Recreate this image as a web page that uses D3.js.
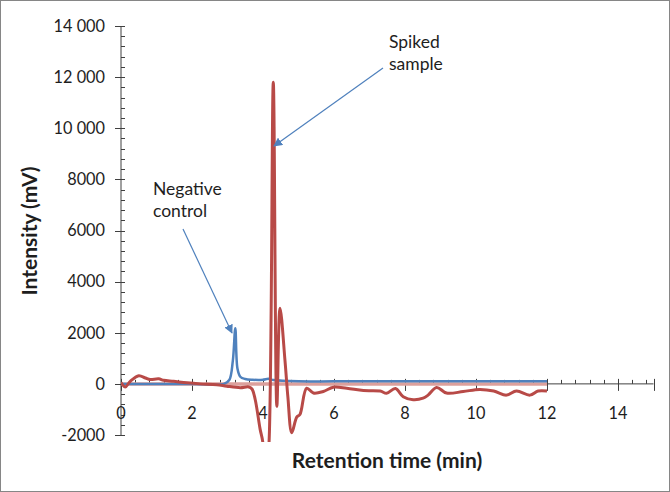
<!DOCTYPE html>
<html><head><meta charset="utf-8">
<script src="https://cdn.jsdelivr.net/npm/d3@7"></script>
<style>body{margin:0;background:#fff}svg{display:block}text{font-family:Lato,"Open Sans",sans-serif;fill:#1e1e1e}</style>
</head><body><svg id="c" width="670" height="492"></svg>
<script>
const xTicks = [0, 2, 4, 6, 8, 10, 12, 14];
const yTicks = [-2000, 0, 2000, 4000, 6000, 8000, 10000, 12000, 14000];
const yTickLabels = ["-2000", "0", "2000", "4000", "6000", "8000", "10 000", "12 000", "14 000"];

const blankTime = [0, 12];
const blankValue = [0, 0];

const negTime = [0, 1, 2, 2.9, 3.05, 3.15, 3.22, 3.28, 3.36, 3.5, 3.7, 4.0, 4.15, 4.3, 5, 6, 8, 10, 12];
const negValue = [0, 0, 0, 0, 150, 900, 2180, 600, 280, 190, 160, 160, 200, 150, 100, 100, 100, 100, 100];

const spikeTime = [0, 0.12, 0.26, 0.5, 0.69, 0.82, 1.06, 1.2, 1.48, 1.86, 2.23, 2.7, 2.98, 3.36, 3.6, 3.69, 3.78, 3.92, 3.99, 4.08, 4.17, 4.29, 4.39, 4.48, 4.62, 4.7, 4.81, 4.95, 5.04, 5.23, 5.42, 5.7, 5.98, 6.36, 6.83, 7.3, 7.48, 7.73, 7.95, 8.23, 8.51, 8.65, 8.89, 9.17, 9.64, 10.1, 10.5, 10.86, 11.14, 11.52, 11.75, 12];
const spikeValue = [50, -120, 100, 320, 230, 170, 200, 140, 100, 40, 0, -30, -90, -150, -120, -200, -610, -1780, -2240, -3800, -2300, 11800, -880, 2960, 900, -500, -1910, -1300, -1200, -170, -360, -300, -130, -170, -260, -280, -370, -180, -500, -620, -560, -440, -140, -360, -300, -220, -280, -440, -280, -440, -280, -280];

const svg = d3.select("#c");
svg.append("rect").attr("x",0.5).attr("y",0.5).attr("width",669).attr("height",491)
  .attr("fill","#fff").attr("stroke","#868686");

const x = d3.scaleLinear().domain([0, 15]).range([121, 653.5]);
const y = d3.scaleLinear().domain([-2000, 14000]).range([435, 26]);
const axisCol = "#404040";

// y axis
const ya = svg.append("g");
ya.append("line").attr("x1",x(0)).attr("x2",x(0)).attr("y1",y(-2000)).attr("y2",y(14000)).attr("stroke",axisCol);
d3.range(-2000, 14001, 400).forEach(v => {
  const major = v % 2000 === 0;
  ya.append("line").attr("x1", x(0) + (major ? -6 : 0)).attr("x2", x(0) + 4)
    .attr("y1", Math.round(y(v)) + 0.5).attr("y2", Math.round(y(v)) + 0.5).attr("stroke", axisCol);
});
yTicks.forEach((v, i) => {
  ya.append("text").attr("x", 105).attr("y", y(v)).attr("dy", "0.36em").attr("text-anchor","end")
    .attr("font-size", 16.3).text(yTickLabels[i]);
});

// x axis at y=0
const xa = svg.append("g");
xa.append("line").attr("x1",x(0)).attr("x2",x(15)).attr("y1",y(0)).attr("y2",y(0)).attr("stroke",axisCol);
d3.range(0, 75, 2).map(d => d / 5).forEach(t => {
  const major = Math.abs(t % 2) < 1e-9;
  const px = Math.round(x(t)) + 0.5;
  xa.append("line").attr("x1", px).attr("x2", px)
    .attr("y1", y(0) - (major ? 5 : 4)).attr("y2", y(0) + (major ? 7 : 0)).attr("stroke", axisCol);
});
xa.append("line").attr("x1", Math.round(x(15))+0.5).attr("x2", Math.round(x(15))+0.5)
  .attr("y1", y(0) - 5).attr("y2", y(0) + 7).attr("stroke", axisCol);
xTicks.forEach(t => {
  xa.append("text").attr("x", x(t)).attr("y", 419).attr("text-anchor","middle")
    .attr("font-size", 16.3).text(t);
});

// series
svg.append("clipPath").attr("id","pc").append("rect").attr("x",x(0)).attr("y",20).attr("width",540).attr("height",422);
const g = svg.append("g").attr("clip-path","url(#pc)");
const line = d3.line().x(d => x(d[0])).y(d => y(d[1])).curve(d3.curveCatmullRom.alpha(0.5));
g.append("path").attr("d", line(blankTime.map((t,i)=>[t, blankValue[i]])))
  .attr("fill","none").attr("stroke","#dca09c").attr("stroke-width",3.5);
g.append("path").attr("d", line(negTime.map((t,i)=>[t, negValue[i]])))
  .attr("fill","none").attr("stroke","#4f81bd").attr("stroke-width",2.5);
g.append("path").attr("d", line(spikeTime.map((t,i)=>[t, spikeValue[i]])))
  .attr("fill","none").attr("stroke","#b84a47").attr("stroke-width",3).attr("stroke-linejoin","round");

// annotations
const defs = svg.append("defs");
defs.append("marker").attr("id","ah").attr("viewBox","0 0 10 10").attr("refX",9).attr("refY",5)
  .attr("markerWidth",7.5).attr("markerHeight",7.5).attr("orient","auto")
  .append("path").attr("d","M0,0L10,5L0,10z").attr("fill","#4f81bd");
svg.append("line").attr("x1",383).attr("y1",68).attr("x2",274).attr("y2",146)
  .attr("stroke","#4f81bd").attr("stroke-width",1.2).attr("marker-end","url(#ah)");
svg.append("line").attr("x1",183).attr("y1",229).attr("x2",232).attr("y2",333)
  .attr("stroke","#4f81bd").attr("stroke-width",1.2).attr("marker-end","url(#ah)");

svg.append("text").attr("x",389).attr("y",48).attr("font-size",17.5).text("Spiked");
svg.append("text").attr("x",389).attr("y",70).attr("font-size",17.5).text("sample");
svg.append("text").attr("x",153).attr("y",195).attr("font-size",17.5).text("Negative");
svg.append("text").attr("x",153).attr("y",217).attr("font-size",17.5).text("control");

// axis titles
svg.append("text").attr("x",387).attr("y",468).attr("text-anchor","middle")
  .attr("font-size",21).attr("font-weight","bold").text("Retention time (min)");
svg.append("text").attr("transform","translate(37,231) rotate(-90)").attr("text-anchor","middle")
  .attr("font-size",21).attr("font-weight","bold").text("Intensity (mV)");
</script></body></html>
